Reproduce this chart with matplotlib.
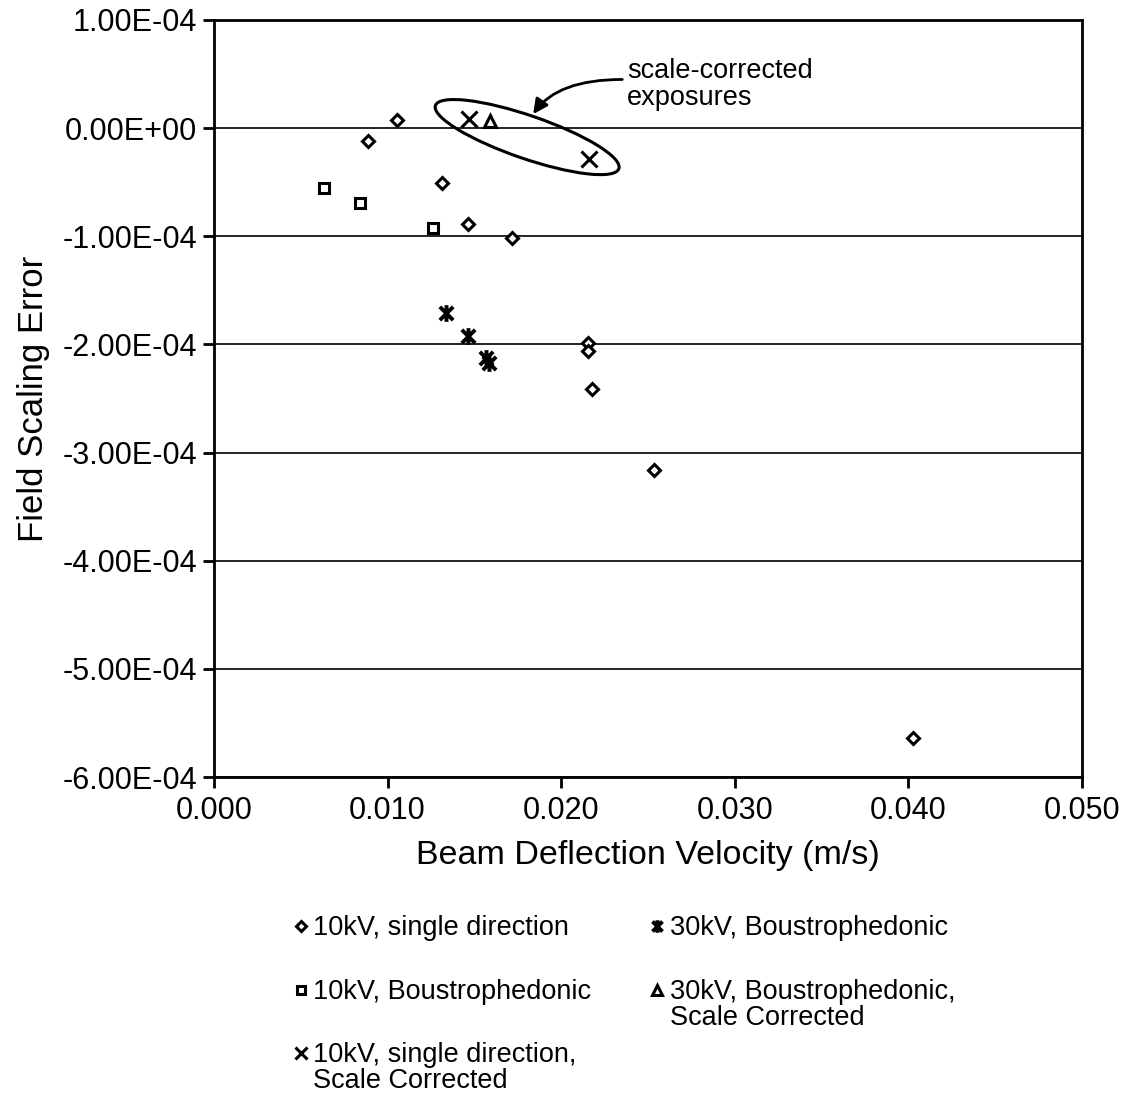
import numpy as np
import matplotlib
matplotlib.use('Agg')
import matplotlib.pyplot as plt
from matplotlib.patches import Ellipse
from matplotlib.path import Path
from matplotlib.transforms import ScaledTranslation
from matplotlib.ticker import FuncFormatter, FixedLocator

plt.rcParams['font.family'] = ['Liberation Sans', 'DejaVu Sans']

# === Data ===
single10_x = [0.00888, 0.01055, 0.01314, 0.01464, 0.01718, 0.02156, 0.02156, 0.02179, 0.02536, 0.04029]
single10_y = [-1.2e-5, 7.4e-6, -5.1e-5, -8.9e-5, -1.02e-4, -1.99e-4, -2.06e-4, -2.41e-4, -3.16e-4, -5.64e-4]

boustro10_x = [0.00634, 0.00841, 0.01262]
boustro10_y = [-5.55e-5, -6.94e-5, -9.25e-5]

single10_sc_x = [0.0147, 0.0216]
single10_sc_y = [8.3e-6, -2.87e-5]

boustro30_x = [0.01337, 0.01464, 0.01568, 0.01585]
boustro30_y = [-1.71e-4, -1.92e-4, -2.13e-4, -2.17e-4]

boustro30_sc_x = [0.0159]
boustro30_sc_y = [7.0e-6]

labels = ['10kV, single direction',
          '10kV, Boustrophedonic',
          '10kV, single direction,\nScale Corrected',
          '30kV, Boustrophedonic',
          '30kV, Boustrophedonic,\nScale Corrected']

y_ticks = np.arange(-6, 2) * 1e-4
x_ticks = [0.0, 0.01, 0.02, 0.03, 0.04, 0.05]

# === Figure ===
fig = plt.figure(figsize=(11.35, 10.97), dpi=100)
ax = fig.add_axes([0.1885, 0.2917, 0.7648, 0.6901])

# star marker: X plus vertical bar
star = Path([(-1, -1), (1, 1), (-1, 1), (1, -1), (0, -1.25), (0, 1.25)],
            [Path.MOVETO, Path.LINETO, Path.MOVETO, Path.LINETO, Path.MOVETO, Path.LINETO])

common = dict(linestyle='none', color='black', markerfacecolor='white', zorder=3)
ax.plot(single10_x, single10_y, marker='D', ms=6.5, mew=2.2, label=labels[0], **common)
ax.plot(boustro10_x, boustro10_y, marker='s', ms=7.5, mew=2.2, label=labels[1], **common)
ax.plot(single10_sc_x, single10_sc_y, marker='x', ms=11, mew=2.2, label=labels[2], **common)
ax.plot(boustro30_x, boustro30_y, marker=star, ms=12, mew=2.8, label=labels[3], **common)
ax.plot(boustro30_sc_x, boustro30_sc_y, marker='^', ms=9, mew=2.2, label=labels[4], **common)

ax.set_xlim(0, 0.05)
ax.set_ylim(-6e-4, 1e-4)
ax.xaxis.set_major_locator(FixedLocator(x_ticks))
ax.yaxis.set_major_locator(FixedLocator(y_ticks))
ax.xaxis.set_major_formatter(FuncFormatter(lambda v, p: '{:.3f}'.format(v)))
ax.yaxis.set_major_formatter(FuncFormatter(lambda v, p: '{:.2E}'.format(v)))
ax.tick_params(axis='both', labelsize=22, direction='out', length=8, width=2, color='black')
ax.tick_params(axis='x', pad=6)
ax.tick_params(axis='y', pad=4)
ax.grid(axis='y', color='black', linewidth=1.2, zorder=1)
ax.set_axisbelow(True)
for sp in ax.spines.values():
    sp.set_linewidth(2.0)
    sp.set_color('black')

ax.set_xlabel('Beam Deflection Velocity (m/s)', fontsize=24.5, labelpad=10)
ax.set_ylabel('Field Scaling Error', fontsize=25, labelpad=9)

# === Annotation: ellipse + arrow ===
ell = Ellipse((0, 0), width=1.94, height=0.43, angle=-19, fill=False,
              edgecolor='black', linewidth=2.2, zorder=4,
              transform=fig.dpi_scale_trans + ScaledTranslation(0.01804, -8.3e-6, ax.transData))
ax.add_patch(ell)
ax.annotate('', xy=(0.01839, 1.3e-5), xytext=(0.02352, 4.5e-5),
            arrowprops=dict(arrowstyle='-|>', color='black', lw=2.0,
                            mutation_scale=22,
                            connectionstyle='angle3,angleA=0,angleB=55',
                            shrinkA=0, shrinkB=0), zorder=4)
ax.text(0.0238, 2.1e-5, 'scale-corrected\nexposures', fontsize=19.5,
        ha='left', va='baseline', linespacing=1.05, zorder=4)

# === Legend ===
leg = fig.legend(loc='upper left', bbox_to_anchor=(0.246, 0.178), ncol=2,
                 frameon=False, fontsize=19.5, markerscale=0.75,
                 handlelength=0.6, handletextpad=0.15, handleheight=1.1,
                 labelspacing=1.38, columnspacing=2.15, borderpad=0)
for t in leg.get_texts():
    t.set_linespacing(1.0)
try:
    for col in leg._legend_handle_box.get_children():
        for item in col.get_children():
            item.align = 'top'
except AttributeError:
    pass

fig.savefig('out.png', dpi=100)
